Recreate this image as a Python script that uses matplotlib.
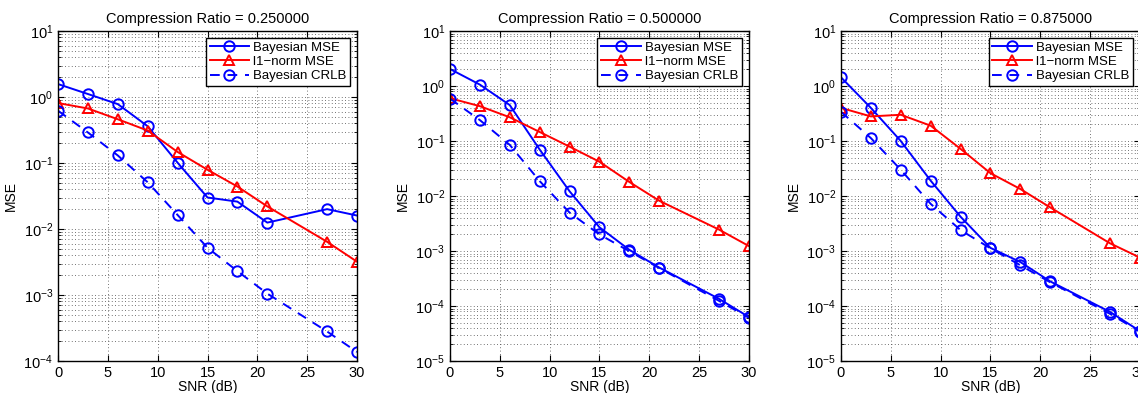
import numpy as np
import matplotlib
matplotlib.use('Agg')
import matplotlib.pyplot as plt
from matplotlib.ticker import LogLocator, NullFormatter

plt.rcParams['font.family'] = ['Liberation Sans', 'DejaVu Sans']
plt.rcParams['mathtext.fontset'] = 'custom'
plt.rcParams['mathtext.rm'] = 'Liberation Sans'

snr = [0, 3, 6, 9, 12, 15, 18, 21, 27, 30]
ratios = [0.25, 0.5, 0.875]

# Bayesian MSE, l1-norm MSE, Bayesian CRLB for each compression ratio
bayes_mse = [
    [1.57, 1.11, 0.78, 0.36, 0.101, 0.030, 0.026, 0.0125, 0.020, 0.016],
    [2.04, 1.06, 0.45, 0.070, 0.0122, 0.0027, 0.00105, 0.0005, 0.000135, 6.3e-5],
    [1.44, 0.40, 0.10, 0.019, 0.0042, 0.00114, 0.00063, 0.00028, 7.8e-5, 3.5e-5],
]
l1_mse = [
    [0.81, 0.67, 0.46, 0.31, 0.147, 0.079, 0.044, 0.022, 0.0064, 0.0032],
    [0.60, 0.43, 0.27, 0.146, 0.079, 0.042, 0.018, 0.0082, 0.00245, 0.00123],
    [0.40, 0.28, 0.30, 0.19, 0.072, 0.026, 0.0134, 0.0062, 0.00138, 0.00076],
]
crlb = [
    [0.62, 0.29, 0.13, 0.051, 0.0163, 0.0052, 0.0023, 0.00105, 0.00028, 0.000137],
    [0.59, 0.24, 0.085, 0.0187, 0.005, 0.002, 0.00099, 0.00049, 0.000124, 6.1e-5],
    [0.34, 0.113, 0.030, 0.0072, 0.0024, 0.00112, 0.00055, 0.00027, 7.2e-5, 3.4e-5],
]
ylows = [1e-4, 1e-5, 1e-5]

fig = plt.figure(figsize=(11.38, 3.93), dpi=100)
lefts = [0.051, 0.3954, 0.739]

for k in range(3):
    ax = fig.add_axes([lefts[k], 0.0814, 0.2627, 0.8397])
    ax.semilogy(snr, bayes_mse[k], '-o', color='#0000ff', lw=1.4, ms=7.5,
                mfc='none', mew=1.4, label='Bayesian MSE')
    ax.semilogy(snr, l1_mse[k], '-^', color='#ff0000', lw=1.4, ms=7.5,
                mfc='none', mew=1.4, label='l1\u2212norm MSE')
    ax.semilogy(snr, crlb[k], '--o', color='#0000ff', lw=1.4, ms=7.5,
                mfc='none', mew=1.4, label='Bayesian CRLB', dashes=(5, 4))
    ax.set_xlim(0, 30)
    ax.set_ylim(ylows[k], 10)
    ax.set_xticks([0, 5, 10, 15, 20, 25, 30])
    ax.yaxis.set_major_locator(LogLocator(base=10, numticks=10))
    ax.yaxis.set_minor_locator(LogLocator(base=10, subs=np.arange(2, 10), numticks=10))
    ax.yaxis.set_minor_formatter(NullFormatter())
    ax.grid(True, which='major', color='#444444', ls=(0, (1, 3)), lw=0.6)
    ax.grid(True, which='minor', axis='y', color='#444444', ls=(0, (1, 3)), lw=0.6)
    ax.tick_params(which='both', direction='in', top=True, right=True, labelsize=10.5)
    ax.tick_params(which='minor', length=2)
    ax.tick_params(which='major', length=4)
    for s in ax.spines.values():
        s.set_linewidth(1.0)
    ax.set_title('Compression Ratio = %f' % ratios[k], fontsize=10.5)
    ax.set_xlabel('SNR (dB)', fontsize=10, labelpad=0)
    ax.set_ylabel('MSE', fontsize=10)
    leg = ax.legend(loc='upper right', fontsize=9.5, fancybox=False, framealpha=1,
                    edgecolor='black', borderpad=0.3, labelspacing=0.15,
                    handlelength=3.0, handletextpad=0.3, borderaxespad=0.5)
    leg.get_frame().set_linewidth(1.0)

fig.savefig('out.png', dpi=100)
